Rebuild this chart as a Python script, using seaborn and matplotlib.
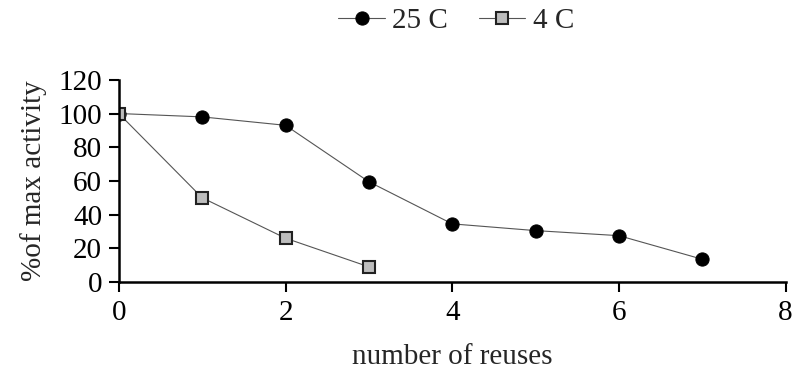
import matplotlib
matplotlib.use("Agg")
import matplotlib.pyplot as plt
import seaborn as sns
import pandas as pd

reuses_25 = [0, 1, 2, 3, 4, 5, 6, 7]
activity_25 = [100, 98, 93, 59.5, 34.5, 30.5, 27.5, 13.5]
reuses_4 = [0, 1, 2, 3]
activity_4 = [100, 50, 26, 9]
series_labels = ["25 C", "4 C"]
x_ticks = [0, 2, 4, 6, 8]
y_ticks = [0, 20, 40, 60, 80, 100, 120]

sns.set_theme(style="ticks")
plt.rcParams['font.family'] = ['Liberation Serif', 'DejaVu Serif']

df25 = pd.DataFrame({"x": reuses_25, "y": activity_25})
df4 = pd.DataFrame({"x": reuses_4, "y": activity_4})

fig = plt.figure(figsize=(7.92, 3.73), dpi=100)
ax = fig.add_axes([0.150, 0.244, 0.842, 0.542])

sns.lineplot(data=df25, x="x", y="y", ax=ax, color="#555555", linewidth=0.8,
             marker="o", markersize=9.5, markerfacecolor="black", markeredgecolor="black",
             label=series_labels[0])
sns.lineplot(data=df4, x="x", y="y", ax=ax, color="#555555", linewidth=0.8,
             marker="s", markersize=8.5, markerfacecolor="#bdbdbd", markeredgecolor="#222222",
             markeredgewidth=1.5, label=series_labels[1])

ax.set_xlim(0, 8)
ax.set_ylim(0, 120)
ax.set_xticks(x_ticks)
ax.set_yticks(y_ticks)
ax.tick_params(axis="both", labelsize=21, length=7, width=1.5, color="black", labelcolor="black")
ax.tick_params(axis="x", pad=6)
ax.tick_params(axis="y", pad=5)
for s in ["top", "right"]:
    ax.spines[s].set_visible(False)
for s in ["left", "bottom"]:
    ax.spines[s].set_linewidth(1.8)
    ax.spines[s].set_color("black")
ax.set_xlabel("number of reuses", fontsize=21, labelpad=13)
ax.set_ylabel("%of max activity", fontsize=21, labelpad=8)

handles, labels = ax.get_legend_handles_labels()
ax.get_legend().remove()
fig.legend(handles, labels, loc="upper center", bbox_to_anchor=(0.576, 1.05), ncol=2,
           frameon=False, fontsize=21, handlelength=1.6, columnspacing=1.05, handletextpad=0.25)

fig.savefig("out.png", dpi=100)
